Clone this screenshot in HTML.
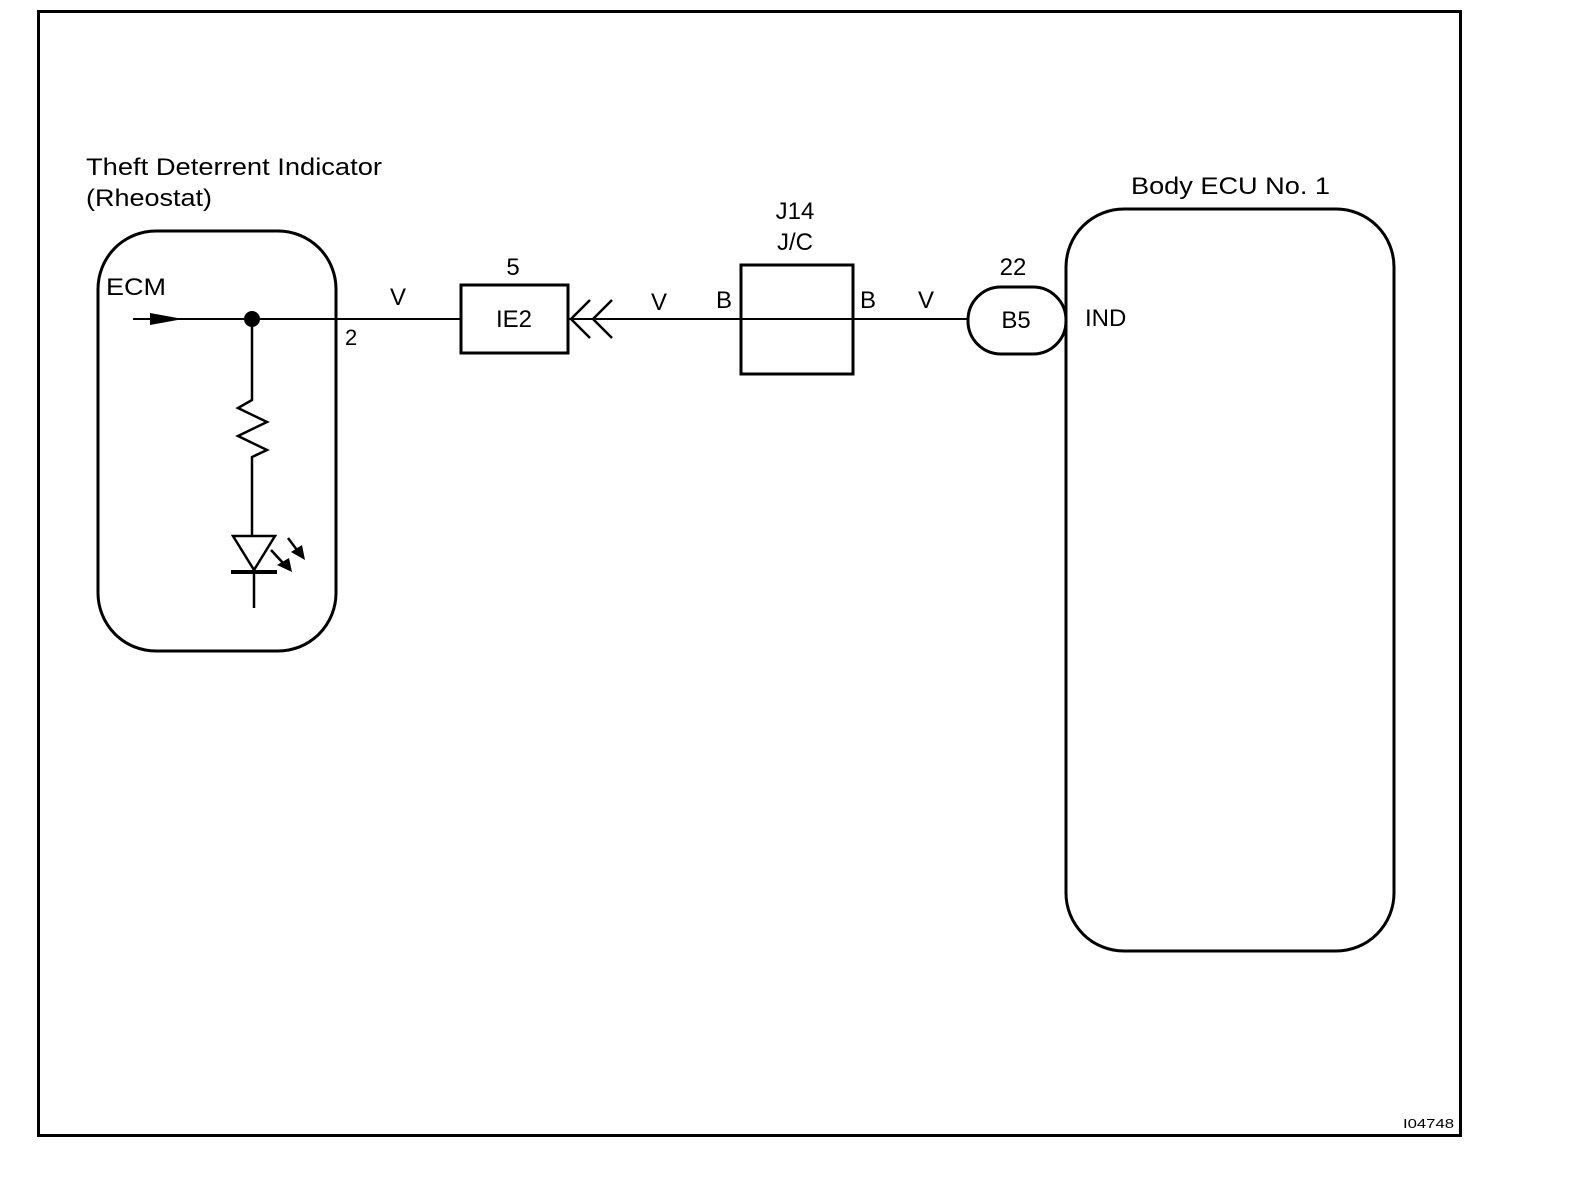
<!DOCTYPE html>
<html><head><meta charset="utf-8"><style>
html,body{margin:0;padding:0;background:#fff;}
svg{display:block;}
text{font-family:"Liberation Sans",Arial,sans-serif;fill:#000;}
</style></head><body>
<svg width="1584" height="1200" viewBox="0 0 1584 1200" xmlns="http://www.w3.org/2000/svg">
<rect width="1584" height="1200" fill="#fff"/>
<!-- frame -->
<rect x="38.5" y="11.5" width="1422" height="1124" fill="none" stroke="#000" stroke-width="3"/>
<!-- titles -->
<text x="86" y="175" font-size="24" textLength="296" lengthAdjust="spacingAndGlyphs">Theft Deterrent Indicator</text>
<text x="86" y="206" font-size="24" textLength="126" lengthAdjust="spacingAndGlyphs">(Rheostat)</text>
<text x="1131" y="194" font-size="24" textLength="199" lengthAdjust="spacingAndGlyphs">Body ECU No. 1</text>
<!-- left component -->
<rect x="98" y="231" width="238" height="420" rx="58" ry="58" fill="none" stroke="#000" stroke-width="3"/>
<text x="106" y="295" font-size="24" textLength="60" lengthAdjust="spacingAndGlyphs">ECM</text>
<line x1="133" y1="319" x2="968" y2="319" stroke="#000" stroke-width="2"/>
<polygon points="150,313 183,319 150,325" fill="#000"/>
<circle cx="252" cy="319" r="8" fill="#000"/>
<polyline points="252,319 252,400 238,408 267,422 238,436 267,450 252,457 252,536" fill="none" stroke="#000" stroke-width="2.5"/>
<polygon points="233,536 275,536 254,570" fill="none" stroke="#000" stroke-width="2.5"/>
<line x1="231" y1="572" x2="277" y2="572" stroke="#000" stroke-width="4"/>
<line x1="254" y1="570" x2="254" y2="608" stroke="#000" stroke-width="2.5"/>
<line x1="271" y1="550" x2="283" y2="563" stroke="#000" stroke-width="2.5"/>
<polygon points="277,565 289,558 292,572" fill="#000"/>
<line x1="288" y1="538" x2="297" y2="550" stroke="#000" stroke-width="2.5"/>
<polygon points="291,552 302,545 305,560" fill="#000"/>
<text x="345" y="345" font-size="22">2</text>
<text x="390" y="305" font-size="24">V</text>
<!-- IE2 -->
<rect x="461" y="285" width="107" height="68" fill="#fff" stroke="#000" stroke-width="3"/>
<text x="514" y="327" font-size="24" text-anchor="middle">IE2</text>
<text x="513" y="275" font-size="24" text-anchor="middle">5</text>
<polyline points="590,300 571,319 590,338" fill="none" stroke="#000" stroke-width="2.5"/>
<polyline points="612,300 593,319 612,338" fill="none" stroke="#000" stroke-width="2.5"/>
<text x="651" y="310" font-size="24">V</text>
<text x="716" y="308" font-size="24">B</text>
<!-- J14 -->
<rect x="741" y="265" width="112" height="109" fill="none" stroke="#000" stroke-width="3"/>
<line x1="741" y1="319" x2="853" y2="319" stroke="#000" stroke-width="2"/>
<text x="795" y="219" font-size="24" text-anchor="middle">J14</text>
<text x="795" y="250" font-size="24" text-anchor="middle">J/C</text>
<text x="860" y="308" font-size="24">B</text>
<text x="918" y="308" font-size="24">V</text>
<!-- B5 -->
<rect x="968" y="287" width="98" height="67" rx="33" ry="33" fill="#fff" stroke="#000" stroke-width="3"/>
<text x="1016" y="328" font-size="24" text-anchor="middle">B5</text>
<text x="1013" y="275" font-size="24" text-anchor="middle">22</text>
<!-- Body ECU -->
<rect x="1066" y="209" width="328" height="742" rx="58" ry="58" fill="none" stroke="#000" stroke-width="3"/>
<text x="1085" y="326" font-size="24">IND</text>
<text x="1403" y="1128" font-size="13" textLength="51" lengthAdjust="spacingAndGlyphs">I04748</text>
</svg>
</body></html>
